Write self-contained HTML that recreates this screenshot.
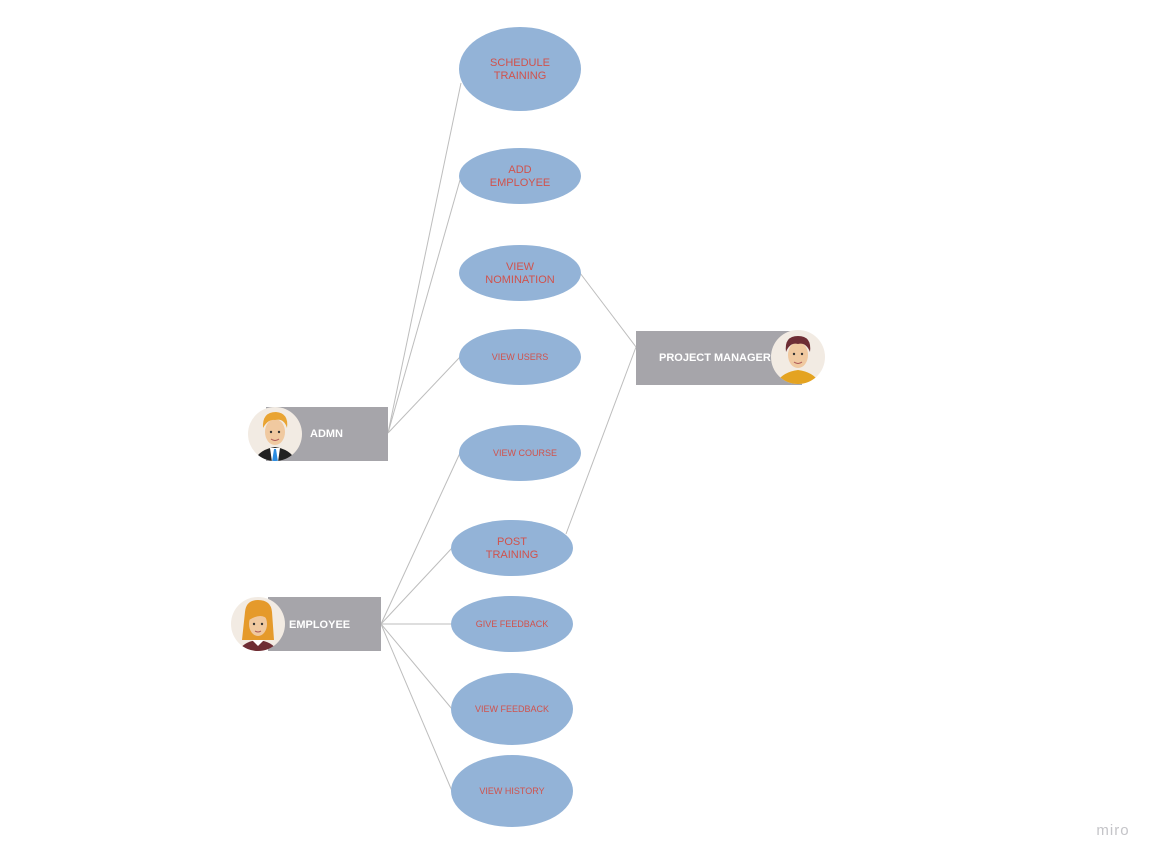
<!DOCTYPE html>
<html><head><meta charset="utf-8"><style>
html,body{margin:0;padding:0;background:#fff;width:1159px;height:862px;overflow:hidden}
text{font-family:"Liberation Sans",sans-serif}
</style></head><body>
<svg width="1159" height="862" viewBox="0 0 1159 862" xmlns="http://www.w3.org/2000/svg">
<g stroke="#bdbdbd" stroke-width="1" fill="none">
<line x1="388" y1="433" x2="461" y2="83"/>
<line x1="388" y1="433" x2="460" y2="180"/>
<line x1="388" y1="433" x2="460" y2="357"/>
<line x1="381" y1="624" x2="460" y2="453"/>
<line x1="381" y1="624" x2="452" y2="548"/>
<line x1="381" y1="624" x2="452" y2="624"/>
<line x1="381" y1="624" x2="452" y2="709"/>
<line x1="381" y1="624" x2="452" y2="791"/>
<line x1="636" y1="347" x2="580" y2="273"/>
<line x1="636" y1="347" x2="566" y2="534"/>
</g>
<g fill="#93b3d7">
<ellipse cx="520" cy="69" rx="61" ry="42"/>
<ellipse cx="520" cy="176" rx="61" ry="28"/>
<ellipse cx="520" cy="273" rx="61" ry="28"/>
<ellipse cx="520" cy="357" rx="61" ry="28"/>
<ellipse cx="520" cy="453" rx="61" ry="28"/>
<ellipse cx="512" cy="548" rx="61" ry="28"/>
<ellipse cx="512" cy="624" rx="61" ry="28"/>
<ellipse cx="512" cy="709" rx="61" ry="36"/>
<ellipse cx="512" cy="791" rx="61" ry="36"/>
</g>
<g fill="#d0524c" text-anchor="middle">
<text x="520" y="66" font-size="11">SCHEDULE</text>
<text x="520" y="79" font-size="11">TRAINING</text>
<text x="520" y="173" font-size="11">ADD</text>
<text x="520" y="186" font-size="11">EMPLOYEE</text>
<text x="520" y="270" font-size="11">VIEW</text>
<text x="520" y="283" font-size="11">NOMINATION</text>
<text x="520" y="360" font-size="9">VIEW USERS</text>
<text x="525" y="456" font-size="9">VIEW COURSE</text>
<text x="512" y="545" font-size="11">POST</text>
<text x="512" y="558" font-size="11">TRAINING</text>
<text x="512" y="627" font-size="9">GIVE FEEDBACK</text>
<text x="512" y="712" font-size="9">VIEW FEEDBACK</text>
<text x="512" y="794" font-size="9">VIEW HISTORY</text>
</g>
<g fill="#a6a5aa">
<rect x="266" y="407" width="122" height="54"/>
<rect x="268" y="597" width="113" height="54"/>
<rect x="636" y="331" width="166" height="54"/>
</g>
<g fill="#fff" font-weight="bold" font-size="11">
<text x="310" y="437">ADMN</text>
<text x="289" y="628">EMPLOYEE</text>
<text x="659" y="361">PROJECT MANAGER</text>
</g>
<!-- admin avatar -->
<clipPath id="c1"><circle cx="275" cy="434" r="27"/></clipPath>
<circle cx="275" cy="434" r="27" fill="#f2ebe3"/>
<g clip-path="url(#c1)">
<path d="M252 470 Q254 450 275 447 Q296 450 298 470Z" fill="#222"/>
<path d="M270 448 L280 448 L278 462 L272 462Z" fill="#fff"/>
<path d="M274 449 L276 449 L278 462 L272 462Z" fill="#2a8be0"/>
<ellipse cx="275" cy="432" rx="10" ry="13" fill="#f0c9a0"/>
<path d="M263 428 Q262 412 276 412 Q289 413 287 428 Q284 418 275 420 Q268 419 263 428Z" fill="#e9a432"/>
<circle cx="271" cy="432" r="1.2" fill="#333"/><circle cx="279" cy="432" r="1.2" fill="#333"/>
<path d="M271 439 Q275 442 279 439" stroke="#a55" fill="none"/>
</g>
<!-- employee avatar -->
<clipPath id="c2"><circle cx="258" cy="624" r="27"/></clipPath>
<circle cx="258" cy="624" r="27" fill="#f2ebe3"/>
<g clip-path="url(#c2)">
<path d="M245 612 Q246 600 258 600 Q271 600 272 612 L274 640 L242 640Z" fill="#e59a2b"/>
<path d="M236 660 Q238 642 258 640 Q278 642 280 660Z" fill="#6e2d34"/>
<path d="M252 640 L264 640 L258 646Z" fill="#fff"/>
<ellipse cx="258" cy="624" rx="9" ry="12" fill="#f0c9a0"/>
<path d="M249 620 Q250 605 262 607 Q268 610 268 620 Q262 612 249 620Z" fill="#e59a2b"/>
<circle cx="254" cy="624" r="1.2" fill="#333"/><circle cx="262" cy="624" r="1.2" fill="#333"/>
<path d="M255 631 Q258 633 261 631" stroke="#a55" fill="none"/>
</g>
<!-- PM avatar -->
<clipPath id="c3"><circle cx="798" cy="357" r="27"/></clipPath>
<circle cx="798" cy="357" r="27" fill="#f2ebe3"/>
<g clip-path="url(#c3)">
<path d="M774 392 Q776 373 798 370 Q820 373 822 392Z" fill="#e4a321"/>
<ellipse cx="798" cy="355" rx="10" ry="13" fill="#f0c9a0"/>
<path d="M786 352 Q784 336 798 336 Q812 336 810 352 Q806 342 798 344 Q790 342 786 352Z" fill="#6e2d34"/>
<circle cx="794" cy="354" r="1.2" fill="#333"/><circle cx="802" cy="354" r="1.2" fill="#333"/>
<path d="M794 362 Q798 365 802 362" stroke="#a55" fill="none"/>
</g>
<text x="1113" y="835" font-size="15" fill="#c4c4c8" text-anchor="middle" letter-spacing="1">miro</text>
</svg>
</body></html>
